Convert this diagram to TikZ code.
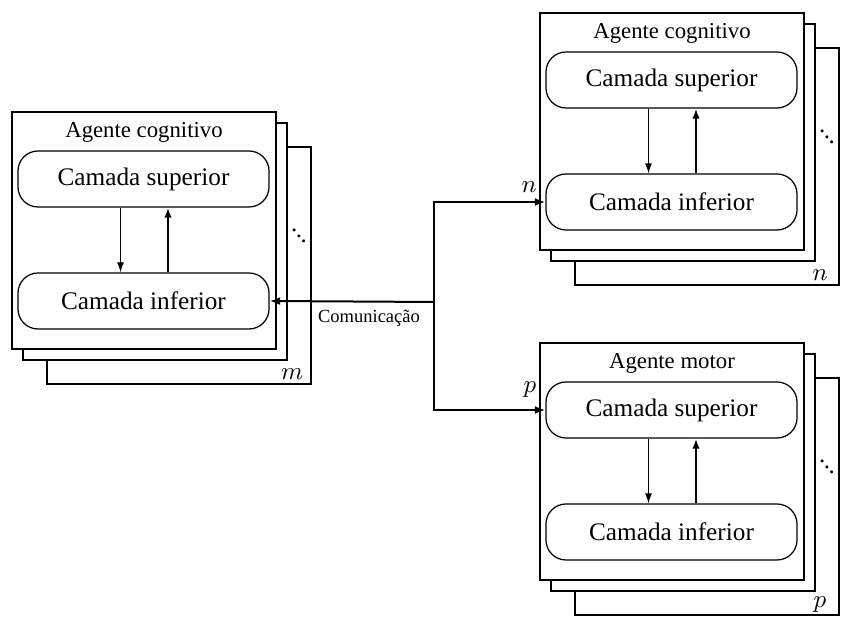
\documentclass[tikz,border=0pt]{standalone}
\usepackage{fontspec}
\setmainfont{Liberation Serif}
\usetikzlibrary{arrows.meta}
\newcommand\stackdots{\raisebox{4.2pt}{.}\kern-0.6pt\raisebox{2.1pt}{.}\kern-0.6pt.}
\tikzset{
  boxline/.style={line width=0.5pt},
  stackbox/.style={boxline, draw, fill=white, inner sep=0pt, minimum width=105.6pt, minimum height=94.8pt},
  layerbox/.style={boxline, draw, fill=white, rounded corners=8pt, inner sep=0pt, minimum width=100.4pt, minimum height=22.4pt, font=\fontsize{10.1}{12}\selectfont},
  titletext/.style={font=\fontsize{9.1}{11}\selectfont, inner sep=0pt},
  labeltext/.style={font=\fontsize{9.7}{11}\selectfont, inner sep=0pt},
  dotstext/.style={font=\fontsize{10}{12}\selectfont, inner sep=0pt},
  thinarr/.style={line width=0.5pt, -{Latex[length=4pt,width=2.8pt]}},
  thickarr/.style={line width=0.8pt, -{Latex[length=4pt,width=3pt]}},
  commarr/.style={line width=0.8pt, -{Latex[length=4.2pt,width=3.2pt]}},
}
% #1 name prefix, #2 x0, #3 y0 (top-left of front box, px), #4 title, #5 label
\newcommand\agentstack[5]{%
  \node[stackbox] (#1b3) at (#2+167, #3+153.5) {};
  \node[stackbox] (#1b2) at (#2+143, #3+129.5) {};
  \node[stackbox] (#1b1) at (#2+132, #3+118.5) {};
  \node[titletext] (#1t) at (#2+132, #3+20) {#4};
  \node[layerbox] (#1s) at (#2+131.5, #3+67) {Camada superior};
  \node[layerbox] (#1i) at (#2+131.5, #3+189) {Camada inferior};
  \node[dotstext] (#1d) at (#2+287, #3+124) {\stackdots};
  \node[labeltext] (#1l) at (#2+280, #3+262) {$#5$};
  \draw[thinarr] ([xshift=-9.2pt]#1s.south) -- ([xshift=-9.2pt]#1i.north);
  \draw[thickarr] ([xshift=9.8pt]#1i.north) -- ([xshift=9.8pt]#1s.south);
}
\begin{document}
\begin{tikzpicture}[x=0.4pt,y=-0.4pt]
  \useasboundingbox (0,0) rectangle (853,630);
  \agentstack{L}{12}{112}{Agente cognitivo}{m}
  \agentstack{N}{540}{13}{Agente cognitivo}{n}
  \agentstack{P}{540}{343}{Agente motor}{p}
  \coordinate (j) at (434,302);
  \draw[commarr] (j) -- (Li.east);
  \draw[commarr] (j) |- (Ni.west);
  \draw[commarr] (j) |- (Ps.west);
  \node[font=\fontsize{7.4}{9}\selectfont, inner sep=0pt] (com) at (369,318) {Comunicação};
  \node[labeltext] (nl) at (529,187) {$n$};
  \node[labeltext] (pl) at (530,390) {$p$};
\end{tikzpicture}
\end{document}
